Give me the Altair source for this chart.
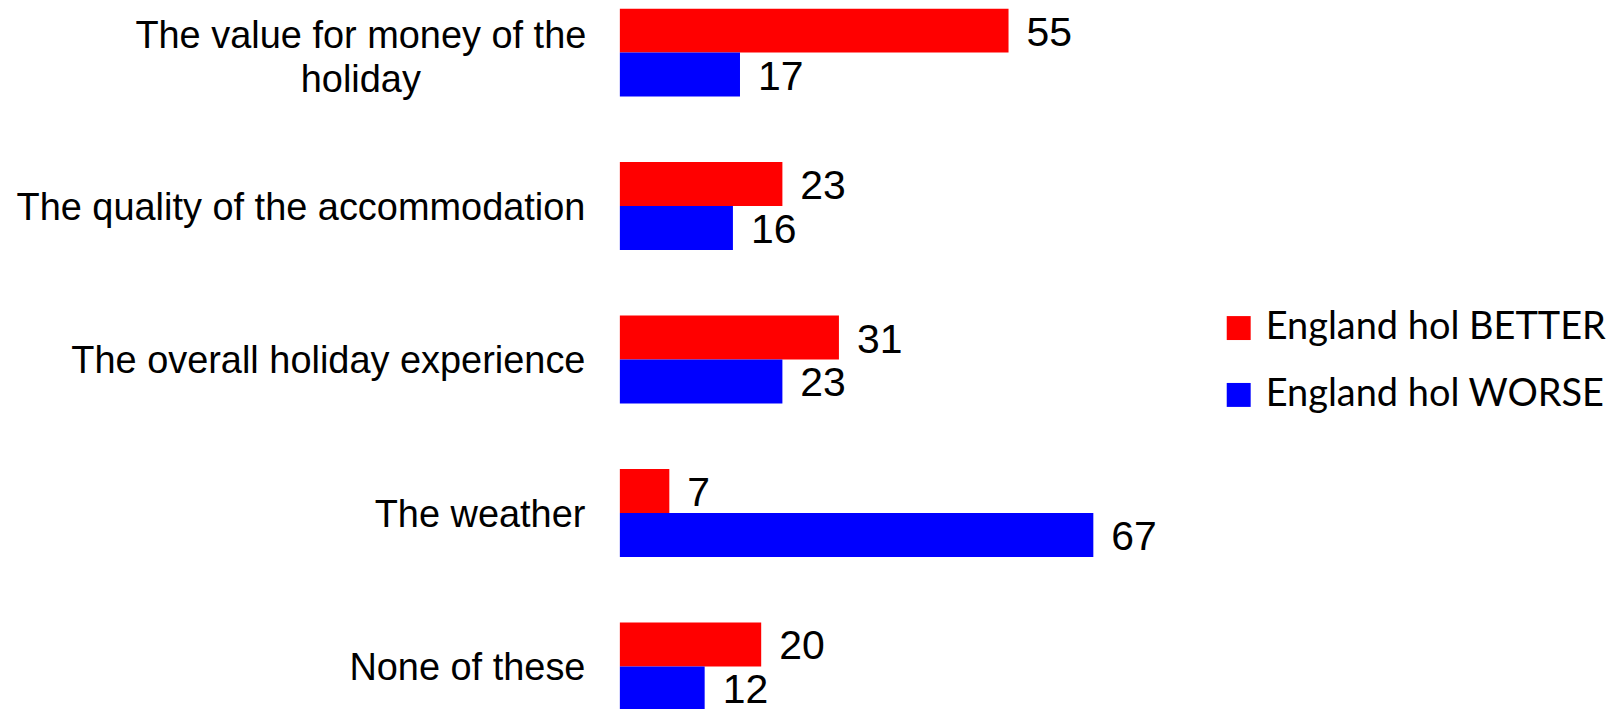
import altair as alt
import pandas as pd

categories = [
    "The value for money of the|holiday",
    "The quality of the accommodation",
    "The overall holiday experience",
    "The weather",
    "None of these",
]
series = ["England hol BETTER", "England hol WORSE"]
better = [55, 23, 31, 7, 20]
worse = [17, 16, 23, 67, 12]
colors = ["#FF0000", "#0000FF"]

rows = []
for c, b, w in zip(categories, better, worse):
    rows.append({"category": c, "series": series[0], "value": b})
    rows.append({"category": c, "series": series[1], "value": w})
df = pd.DataFrame(rows)

multi = "indexof(datum.value, '|') >= 0"

y_enc = alt.Y(
    "category:N",
    sort=categories,
    scale=alt.Scale(paddingInner=0.4276, paddingOuter=0),
    axis=alt.Axis(
        title=None,
        domain=False,
        ticks=False,
        grid=False,
        labelExpr="split(datum.label, '|')",
        labelFont="Liberation Sans",
        labelFontSize=38,
        labelColor="#000000",
        labelLimit=0,
        labelLineHeight=45,
        labelBaseline="middle",
        labelAlign={"condition": {"test": multi, "value": "center"}, "value": "right"},
        labelPadding={"condition": {"test": multi, "value": 260}, "value": 35},
        labelOffset={"condition": {"test": multi, "value": -16}, "value": 3},
    ),
)
yoff = alt.YOffset("series:N", sort=series, scale=alt.Scale(paddingInner=0, paddingOuter=0))
x_enc = alt.X("value:Q", scale=alt.Scale(domain=[0, 100]), axis=None)

base = alt.Chart(df).encode(y=y_enc, yOffset=yoff, x=x_enc)

bars = base.mark_bar().encode(
    color=alt.Color(
        "series:N",
        sort=series,
        scale=alt.Scale(domain=series, range=colors),
        legend=alt.Legend(
            title=None,
            orient="none",
            legendX=601,
            legendY=301,
            symbolType="square",
            symbolSize=576,
            symbolStrokeWidth=0,
            labelFont="Lato",
            labelFontSize=38,
            labelColor="#000000",
            labelOffset=8,
            rowPadding=29,
            labelLimit=0,
        ),
    )
)

labels = base.mark_text(
    align="left", baseline="middle", dx=18, dy=3, fontSize=41, font="Liberation Sans", color="#000000"
).encode(text="value:Q")

chart = (
    alt.layer(bars, labels)
    .properties(
        width=708,
        height=703,
        background="#ffffff",
        autosize=alt.AutoSizeParams(type="none"),
        padding={"left": 613, "top": 0, "right": 290, "bottom": 0},
    )
    .configure_view(strokeWidth=0, stroke="transparent")
)

chart.save("out.html", embed_options={"renderer": "svg", "actions": False})
